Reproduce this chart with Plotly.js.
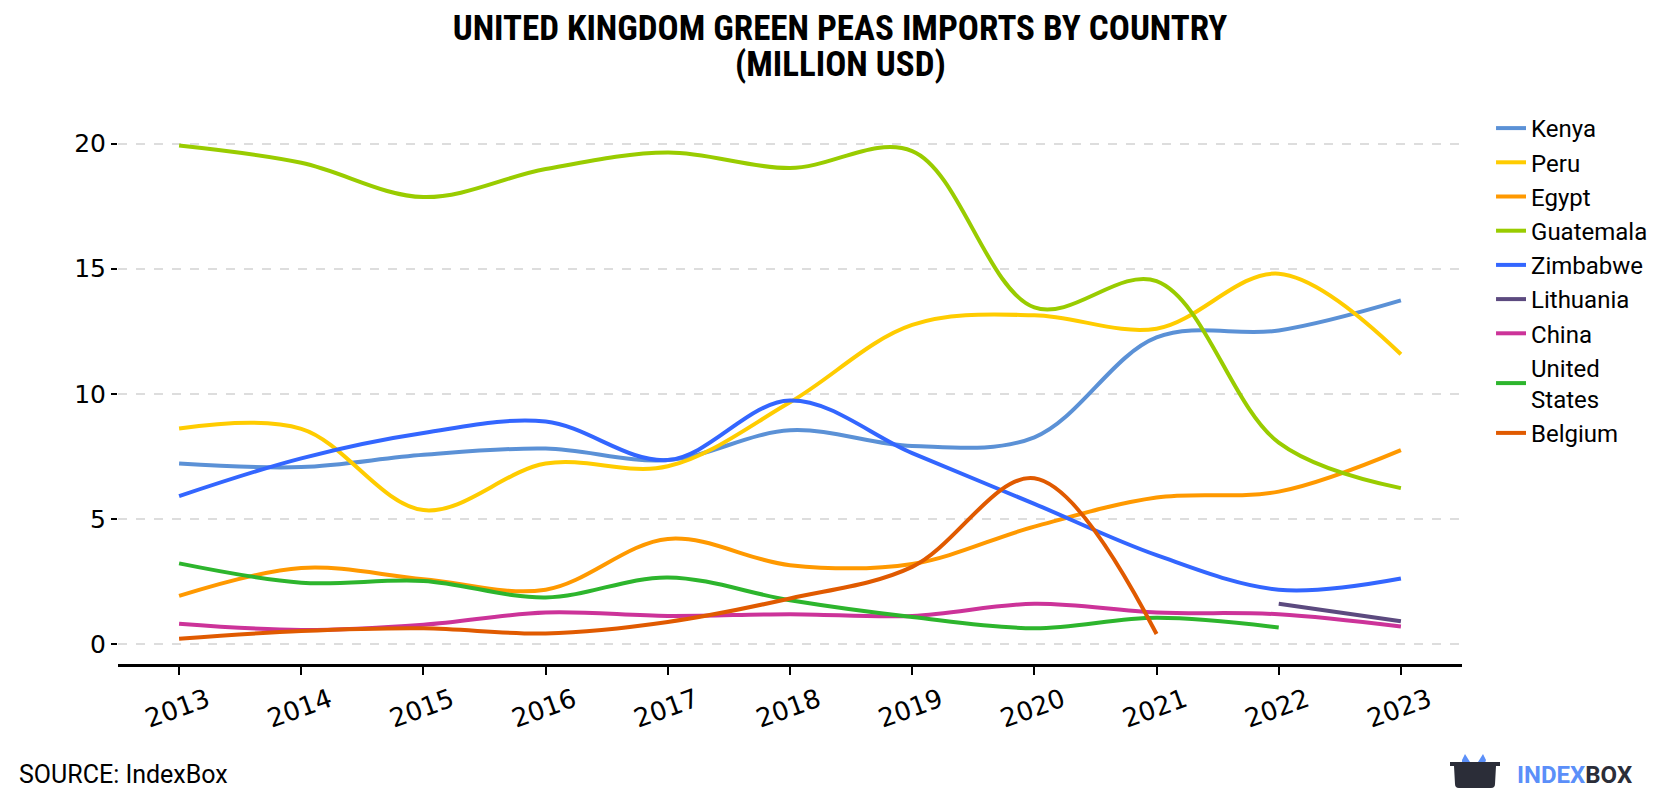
<!DOCTYPE html>
<html>
<head>
<meta charset="utf-8">
<script src="https://cdn.plot.ly/plotly-3.0.1.min.js"></script>
<style>html,body{margin:0;padding:0;background:#fff;}#chart{width:1680px;height:800px;}</style>
</head>
<body>
<div id="chart"></div>
<script>
const years = [2013, 2014, 2015, 2016, 2017, 2018, 2019, 2020, 2021, 2022, 2023];
const seriesNames = ["Kenya", "Peru", "Egypt", "Guatemala", "Zimbabwe", "Lithuania", "China", "United<br>States", "Belgium"];
const seriesColors = ["#5b91d6", "#ffcc00", "#ff9900", "#99cc00", "#3366ff", "#5c4a7f", "#cc3399", "#2db52d", "#e05a00"];

const kenya     = [7.21, 7.07, 7.56, 7.81, 7.35, 8.54, 7.91, 8.26, 12.25, 12.53, 13.73];
const peru      = [8.61, 8.60, 5.35, 7.21, 7.10, 9.66, 12.75, 13.14, 12.60, 14.80, 11.58];
const egypt     = [1.92, 3.04, 2.59, 2.17, 4.20, 3.15, 3.20, 4.69, 5.85, 6.09, 7.75];
const guatemala = [19.92, 19.23, 17.86, 18.98, 19.64, 19.02, 19.70, 13.45, 14.50, 8.05, 6.23];
const zimbabwe  = [5.91, 7.42, 8.43, 8.89, 7.35, 9.73, 7.63, 5.60, 3.55, 2.17, 2.62];
const lithuania = [null, null, null, null, null, null, null, null, null, 1.61, 0.91];
const china     = [0.81, 0.56, 0.77, 1.26, 1.12, 1.19, 1.12, 1.61, 1.26, 1.19, 0.70];
const unitedStates = [3.22, 2.45, 2.52, 1.86, 2.66, 1.75, 1.08, 0.63, 1.05, 0.66, null];
const belgium   = [0.21, 0.52, 0.63, 0.42, 0.88, 1.82, 3.08, 6.62, 0.40, null, null];

const seriesValues = [kenya, peru, egypt, guatemala, zimbabwe, lithuania, china, unitedStates, belgium];

const traces = seriesNames.map((name, i) => ({
  type: "scatter",
  mode: "lines",
  name: name,
  x: years,
  y: seriesValues[i],
  connectgaps: false,
  line: {color: seriesColors[i], width: 4, shape: "spline", smoothing: 1},
  hoverinfo: "x+y+name"
}));

// pixel -> paper helpers (plot area: x 118..1462, y 106..664)
const L = 118, R = 1462, T = 106, B = 664;
const px = v => (v - L) / (R - L);
const py = v => (B - v) / (B - T);

const boxPath = `M ${px(1450)} ${py(762)} L ${px(1500)} ${py(762)} L ${px(1500)} ${py(766)} L ${px(1496)} ${py(766)} L ${px(1495)} ${py(784)} Q ${px(1495)} ${py(788)} ${px(1491)} ${py(788)} L ${px(1459)} ${py(788)} Q ${px(1455)} ${py(788)} ${px(1455)} ${py(784)} L ${px(1454)} ${py(766)} L ${px(1450)} ${py(766)} Z`;
const earPath = `M ${px(1462)} ${py(773)} L ${px(1462)} ${py(760)} L ${px(1465)} ${py(754)} L ${px(1470)} ${py(762)} L ${px(1478)} ${py(762)} L ${px(1483)} ${py(754)} L ${px(1486)} ${py(760)} L ${px(1484)} ${py(766)} L ${px(1472)} ${py(766)} L ${px(1470)} ${py(773)} Z`;

const titleFont = {family: "Roboto Condensed, Liberation Sans Narrow, Roboto, sans-serif", size: 35, color: "#000"};

const layout = {
  width: 1680,
  height: 800,
  paper_bgcolor: "#ffffff",
  plot_bgcolor: "#ffffff",
  margin: {l: L, r: 1680 - R, t: T, b: 800 - B},
  title: {
    text: "<b>UNITED KINGDOM GREEN PEAS IMPORTS BY COUNTRY</b>",
    font: titleFont,
    x: 0.5, xanchor: "center", xref: "container",
    yref: "container", y: 1 - 28 / 800, yanchor: "middle"
  },
  xaxis: {
    range: [2012.5, 2023.5],
    tickmode: "array",
    tickvals: years,
    ticktext: years.map(String),
    tickangle: -20,
    ticklabelshift: 28,
    ticks: "outside",
    ticklen: 8,
    tickwidth: 2,
    tickcolor: "#000",
    showline: true,
    linecolor: "#000",
    linewidth: 3,
    showgrid: false,
    zeroline: false,
    tickfont: {family: "DejaVu Sans, sans-serif", size: 26, color: "#000"}
  },
  yaxis: {
    range: [-0.8, 21.5],
    tickmode: "array",
    tickvals: [0, 5, 10, 15, 20],
    ticks: "outside",
    ticklen: 6,
    tickwidth: 2,
    tickcolor: "#000",
    showline: false,
    showgrid: true,
    gridcolor: "#dddddd",
    gridwidth: 2,
    griddash: "dash",
    zeroline: false,
    tickfont: {family: "DejaVu Sans, sans-serif", size: 25, color: "#000"}
  },
  legend: {
    x: 1.0216, xanchor: "left",
    y: 1.0, yanchor: "top",
    font: {family: "Roboto, sans-serif", size: 24, color: "#000"},
    traceorder: "normal",
    itemwidth: 30,
    bgcolor: "rgba(0,0,0,0)"
  },
  showlegend: true,
  shapes: [
    {type: "path", xref: "paper", yref: "paper", path: earPath, fillcolor: "#5b8ff9", line: {width: 0}, layer: "above"},
    {type: "path", xref: "paper", yref: "paper", path: boxPath, fillcolor: "#2b2d38", line: {width: 0}, layer: "above"}
  ],
  annotations: [
    {
      text: "<b>(MILLION USD)</b>",
      xref: "paper", yref: "paper",
      x: (840 - L) / (R - L), y: py(64),
      xanchor: "center", yanchor: "middle",
      showarrow: false,
      font: titleFont
    },
    {
      text: "SOURCE: IndexBox",
      xref: "paper", yref: "paper",
      x: px(17), y: py(774),
      xanchor: "left", yanchor: "middle",
      showarrow: false,
      font: {family: "Roboto, sans-serif", size: 25, color: "#000"}
    },
    {
      text: "<b><span style='color:#5b8ff9'>INDEX</span><span style='color:#2b2d38'>BOX</span></b>",
      xref: "paper", yref: "paper",
      x: px(1515), y: py(775),
      xanchor: "left", yanchor: "middle",
      showarrow: false,
      font: {family: "Roboto, sans-serif", size: 24, color: "#2b2d38"}
    }
  ]
};

Plotly.newPlot("chart", traces, layout, {displayModeBar: false, staticPlot: true});
</script>
</body>
</html>
